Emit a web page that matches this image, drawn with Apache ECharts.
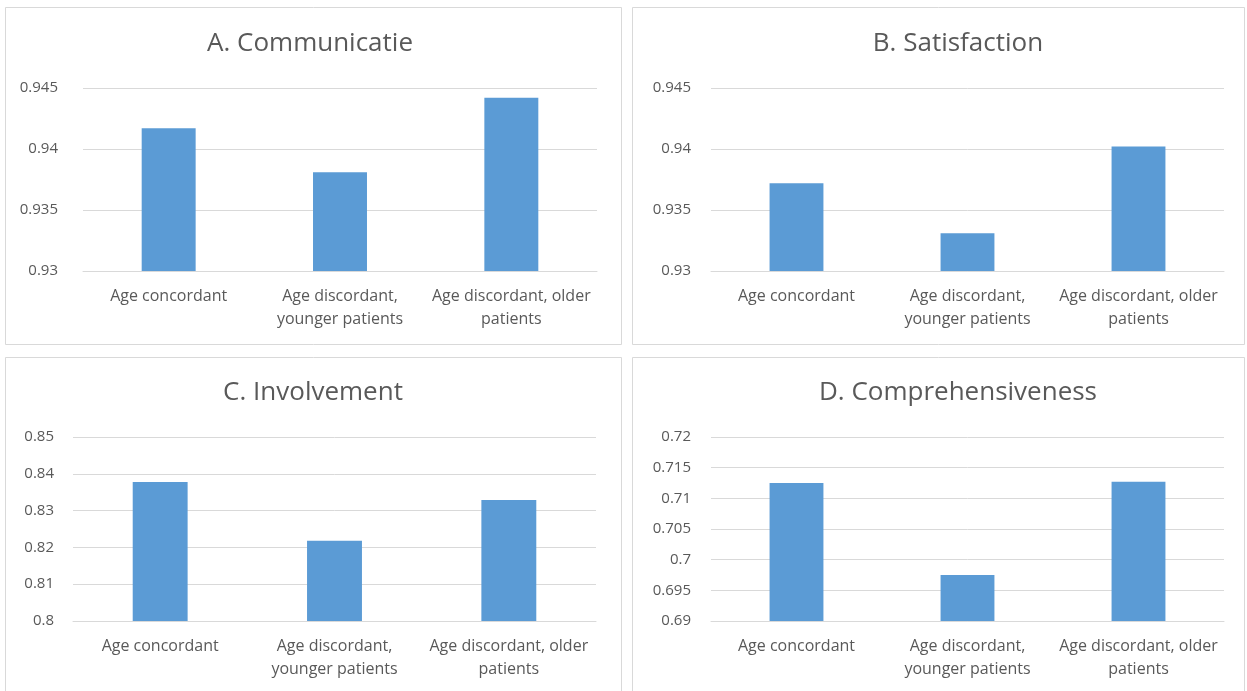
<!DOCTYPE html>
<html>
<head>
<meta charset="utf-8">
<script src="https://cdn.jsdelivr.net/npm/echarts@6/dist/echarts.min.js"></script>
<style>
  html, body { margin: 0; padding: 0; background: #ffffff; }
  #chart { width: 1247px; height: 691px; }
</style>
</head>
<body>
<div id="chart"></div>
<script>
// Categories shared by all four panels
const categories = [
  'Age concordant',
  'Age discordant,\nyounger patients',
  'Age discordant, older\npatients'
];

// Panel titles
const panelTitles = ['A. Communicatie', 'B. Satisfaction', 'C. Involvement', 'D. Comprehensiveness'];

// Values per panel
const communicatie = [0.9417, 0.9381, 0.9442];
const satisfaction = [0.9372, 0.9331, 0.9402];
const involvement = [0.8378, 0.8218, 0.8329];
const comprehensiveness = [0.7125, 0.6975, 0.7127];

// Value-axis ranges per panel
const yMin = [0.93, 0.93, 0.80, 0.69];
const yMax = [0.945, 0.945, 0.85, 0.72];
const yStep = [0.005, 0.005, 0.01, 0.005];

const seriesValues = [communicatie, satisfaction, involvement, comprehensiveness];

// Layout of the four panels (frame, plot area, title position)
const frames = [
  { x: 5.5, y: 7.5, w: 616, h: 337 },
  { x: 632.5, y: 7.5, w: 612, h: 337 },
  { x: 5.5, y: 357.5, w: 616, h: 340 },
  { x: 632.5, y: 357.5, w: 612, h: 340 }
];
const plots = [
  { left: 83, top: 88, width: 514, height: 183, labelMargin: 25 },
  { left: 711, top: 88, width: 513, height: 183, labelMargin: 20 },
  { left: 73, top: 437, width: 523, height: 184, labelMargin: 19 },
  { left: 711, top: 437, width: 513, height: 184, labelMargin: 20 }
];
const titlePos = [
  { x: 310, y: 44 },
  { x: 958, y: 44 },
  { x: 313, y: 393 },
  { x: 958, y: 393 }
];

const textColor = '#595959';
const gridColor = '#d9d9d9';
const barColor = '#5b9bd5';
const fontFamily = '"Open Sans", "Noto Sans", sans-serif';

const chart = echarts.init(document.getElementById('chart'), null, { renderer: 'canvas' });

const grid = plots.map(p => ({
  left: p.left, top: p.top, width: p.width, height: p.height, containLabel: false
}));

const xAxis = plots.map((p, i) => ({
  type: 'category',
  gridIndex: i,
  data: categories,
  axisLine: { show: true, lineStyle: { color: gridColor, width: 1 } },
  axisTick: { show: false },
  axisLabel: {
    color: textColor, fontSize: 16, fontFamily: fontFamily,
    lineHeight: 23, margin: 14, interval: 0, align: 'center'
  }
}));

const yAxis = plots.map((p, i) => ({
  type: 'value',
  gridIndex: i,
  min: yMin[i],
  max: yMax[i],
  interval: yStep[i],
  axisLine: { show: false },
  axisTick: { show: false },
  splitLine: { lineStyle: { color: gridColor, width: 1 } },
  axisLabel: {
    color: textColor, fontSize: 15, fontFamily: fontFamily, margin: p.labelMargin,
    formatter: v => String(parseFloat(v.toFixed(4)))
  }
}));

const series = seriesValues.map((vals, i) => ({
  type: 'bar',
  xAxisIndex: i,
  yAxisIndex: i,
  data: vals,
  barWidth: '31.5%',
  itemStyle: { color: barColor },
  silent: true
}));

const graphic = [];
frames.forEach(f => {
  graphic.push({
    type: 'rect',
    shape: { x: f.x, y: f.y, width: f.w, height: f.h },
    style: { fill: 'none', stroke: gridColor, lineWidth: 1 },
    silent: true
  });
});
titlePos.forEach((t, i) => {
  graphic.push({
    type: 'text',
    x: t.x, y: t.y,
    style: {
      text: panelTitles[i],
      fill: textColor,
      font: '26px ' + fontFamily,
      textAlign: 'center',
      textVerticalAlign: 'middle'
    },
    silent: true
  });
});

chart.setOption({
  backgroundColor: '#ffffff',
  animation: false,
  grid: grid,
  xAxis: xAxis,
  yAxis: yAxis,
  series: series,
  graphic: graphic
});
</script>
</body>
</html>
